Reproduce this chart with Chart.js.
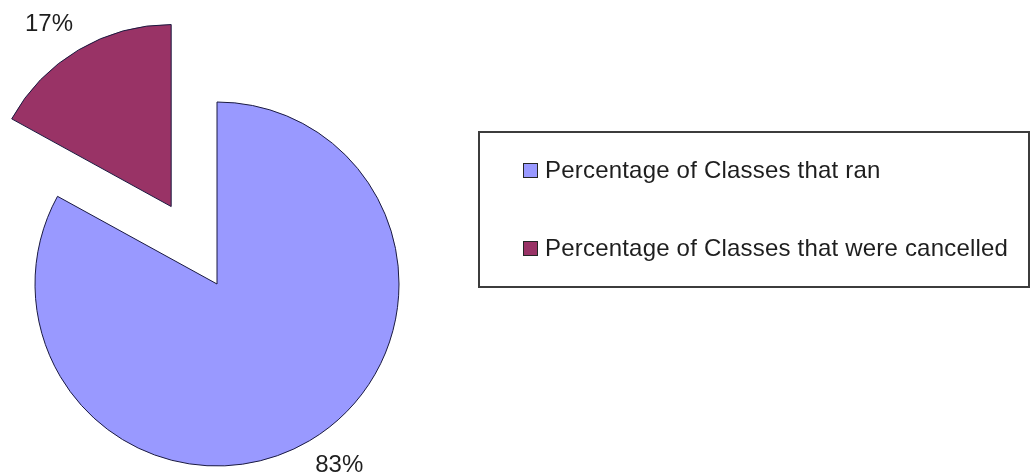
<!DOCTYPE html>
<html>
<head>
<meta charset="utf-8">
<title>Classes that ran vs cancelled</title>
<script src="https://cdn.jsdelivr.net/npm/chart.js@4.4.1/dist/chart.umd.min.js"></script>
<style>
  html, body { margin: 0; padding: 0; background: #fff; }
  #wrap { position: relative; width: 1031px; height: 472px; overflow: hidden; }
  #wrap canvas { position: absolute; left: 0; top: 0; }
  #legend {
    position: absolute; left: 478px; top: 131px;
    width: 548px; height: 153px;
    border: 2px solid #3c3c3c;
    font-family: 'Liberation Sans', Arial, sans-serif;
    font-size: 24px; color: #1e1e1e; letter-spacing: 0.2px;
  }
  #legend .item { position: absolute; left: 43px; height: 28px; display: flex; align-items: center; white-space: nowrap; }
  #legend .swatch { width: 13px; height: 13px; border: 1px solid #262626; margin-right: 7px; }
</style>
</head>
<body>
<div id="wrap">
  <canvas id="pieChart" width="1031" height="472"></canvas>
  <div id="legend"></div>
</div>
<script>
// data
const categories = ['Percentage of Classes that ran', 'Percentage of Classes that were cancelled'];
const percentages = [83, 17];
const sliceColors = ['#9999FF', '#993366'];

// how far each slice is pulled out of the pie (px), the cancelled one is exploded
const explode = [0, 90];

// explode slices along their middle angle + "17%" / "83%" labels outside
const pieExtras = {
    id: 'pieExtras',
    afterDatasetUpdate(chart, args) {
        args.meta.data.forEach((arc, i) => {
            const mid = (arc.startAngle + arc.endAngle) / 2;
            arc.x += Math.cos(mid) * explode[i];
            arc.y += Math.sin(mid) * explode[i];
        });
    },
    afterDatasetsDraw(chart) {
        const ctx = chart.ctx;
        const meta = chart.getDatasetMeta(0);
        ctx.save();
        ctx.font = '24px "Liberation Sans", Arial, sans-serif';
        ctx.fillStyle = '#1e1e1e';
        ctx.textAlign = 'center';
        ctx.textBaseline = 'middle';
        meta.data.forEach((arc, i) => {
            const mid = (arc.startAngle + arc.endAngle) / 2;
            const a = mid - 0.058;
            const d = arc.outerRadius + 37;
            ctx.fillText(percentages[i] + '%', arc.x + Math.cos(a) * d, arc.y + Math.sin(a) * d);
        });
        ctx.restore();
    }
};

new Chart(document.getElementById('pieChart'), {
    type: 'pie',
    data: {
        labels: categories,
        datasets: [{
            data: percentages,
            backgroundColor: sliceColors,
            borderColor: '#1a1a40',
            borderWidth: 1
        }]
    },
    options: {
        responsive: false,
        animation: false,
        radius: 182,
        layout: { padding: { left: 0, right: 597, top: 96, bottom: 0 } },
        plugins: {
            legend: { display: false },
            tooltip: { enabled: false }
        }
    },
    plugins: [pieExtras]
});

// boxed legend on the right
const legendEl = document.getElementById('legend');
const rowTops = [23, 101];
categories.forEach((name, i) => {
    const item = document.createElement('div');
    item.className = 'item';
    item.style.top = rowTops[i] + 'px';
    item.innerHTML = '<span class="swatch" style="background:' + sliceColors[i] + '"></span><span>' + name + '</span>';
    legendEl.appendChild(item);
});
</script>
</body>
</html>
